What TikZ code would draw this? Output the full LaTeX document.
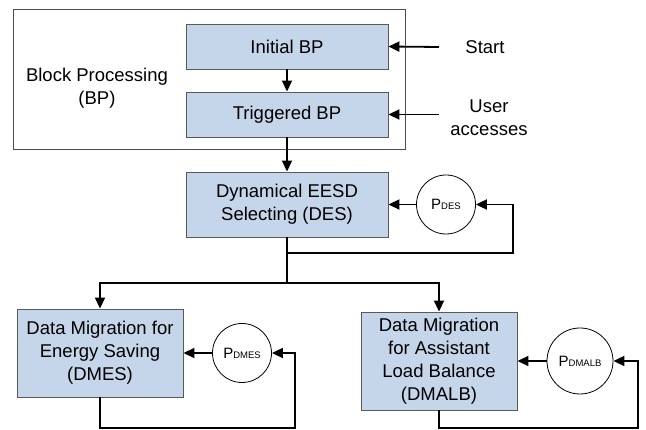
\documentclass[tikz,border=0pt]{standalone}
\usepackage{fontspec}
\setmainfont{Liberation Sans}
\usetikzlibrary{arrows.meta}
\definecolor{boxblue}{RGB}{198,214,234}
\tikzset{blk/.style = {draw = black!65, fill = boxblue, line width = 0.9,
                       align = center, inner sep = 0}}
\tikzset{pcirc/.style = {draw, circle, line width = 0.8, inner sep = 0}}
\tikzset{ln/.style = {line width = 1.8}}
\tikzset{arr/.style = {ln, -{Triangle[length = 11, width = 10]}}}
\newcommand{\pname}[1]{{\fontsize{15}{15}\selectfont P}{\fontsize{9.5}{10}\selectfont #1}}

\begin{document}
\begin{tikzpicture}[x = 1pt, y = -1pt, font = \fontsize{18.5}{23}\selectfont]
      \useasboundingbox (0, 0) rectangle (646, 430);
      \node [draw = black!70, line width = 0.9, minimum width = 392, minimum height = 140, inner sep = 0] (frame) at (209, 79) {};
      \node [align = center] (bptext) at (97, 88.5) {Block Processing\\(BP)};
      \node [blk, minimum width = 202, minimum height = 45] (init) at (287, 46.5) {Initial BP};
      \node [blk, minimum width = 202, minimum height = 45] (trig) at (287, 114.5) {Triggered BP};
      \node (start) at (485, 47) {Start};
      \node [align = center] (user) at (489, 117.5) {User\\accesses};
      \coordinate (startin) at (439, 47);
      \coordinate (userin) at (439, 114.5);
      \draw [arr] (startin) -- (init.east);
      \draw [arr] (userin) -- (trig.east);
      \draw [arr] (init) -- (trig);
      % selecting stage
      \node [blk, minimum width = 202, minimum height = 65] (des) at (287, 204.5) {Dynamical EESD\\Selecting (DES)};
      \node [pcirc, minimum size = 59] (pdes) at (446, 204.5) {\pname{DES}};
      \draw [arr] (trig) -- (des);
      \draw [arr] (pdes) -- (des);
      \coordinate (desloop) at (513, 253);
      \draw [arr] (des.south) |- (desloop) |- (pdes.east);
      % migration stages
      \node [blk, minimum width = 166, minimum height = 88] (dmes) at (100, 353) {Data Migration for\\Energy Saving\\(DMES)};
      \node [pcirc, minimum size = 59] (pdmes) at (242, 353) {\pname{DMES}};
      \node [blk, minimum width = 156, minimum height = 98] (dmalb) at (439, 361) {Data Migration\\for Assistant\\Load Balance\\(DMALB)};
      \node [pcirc, minimum size = 66] (pdmalb) at (580, 361) {\pname{DMALB}};
      \coordinate (split) at (287, 283);
      \draw [ln] (des.south) -- (split);
      \draw [arr] (split) -| (dmes.north);
      \draw [arr] (split) -| (dmalb.north);
      \draw [arr] (pdmes) -- (dmes);
      \draw [arr] (pdmalb) -- (dmalb);
      \coordinate (dmesloop) at (295, 428);
      \coordinate (dmalbloop) at (638, 428);
      \draw [arr] (dmes.south) |- (dmesloop) |- (pdmes.east);
      \draw [arr] (dmalb.south) |- (dmalbloop) |- (pdmalb.east);
\end{tikzpicture}
\end{document}
